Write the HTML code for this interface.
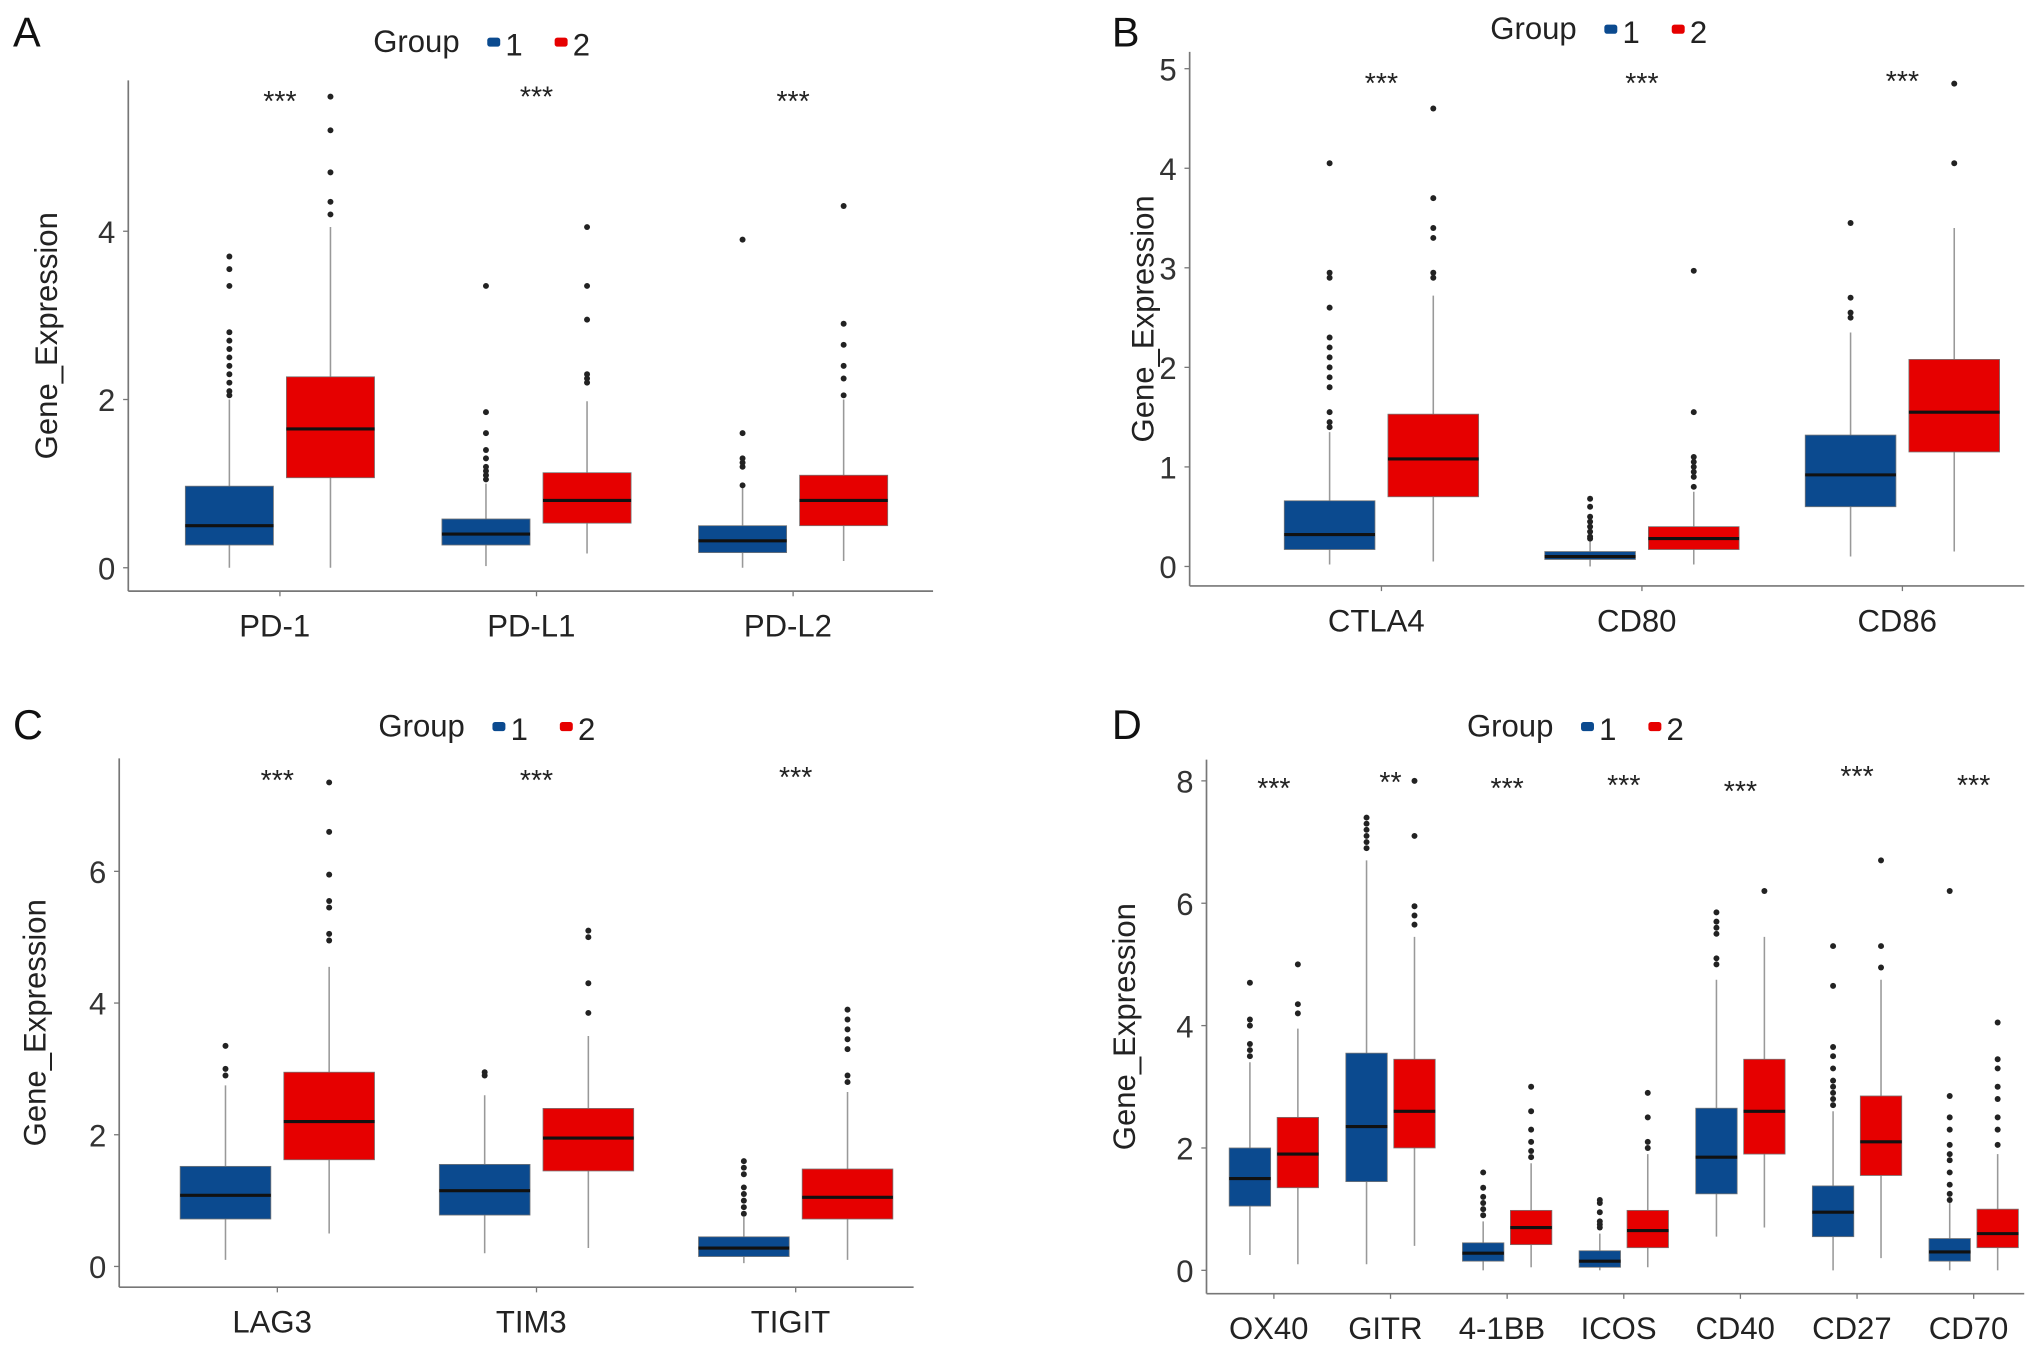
<!DOCTYPE html>
<html><head><meta charset="utf-8"><style>
html,body{margin:0;padding:0;background:#fff;}
svg{display:block;font-family:"Liberation Sans",Arial,sans-serif;}
</style></head><body>
<svg id="fig" width="2032" height="1352" viewBox="0 0 1568 1043" preserveAspectRatio="none" xmlns="http://www.w3.org/2000/svg"></svg>
<script>
// ---- data: [whiskerLow, q1, median, q3, whiskerHigh] ----
const catsA = ["PD-1","PD-L1","PD-L2"];
const boxA1 = [[0,0.27,0.5,0.97,2.0],[0.02,0.27,0.4,0.58,1.0],[0,0.18,0.32,0.5,0.95]];
const boxA2 = [[0,1.07,1.65,2.27,4.05],[0.17,0.53,0.8,1.13,1.98],[0.08,0.5,0.8,1.1,2.0]];
const outA1 = [[2.05,2.1,2.2,2.3,2.4,2.5,2.6,2.7,2.8,3.35,3.55,3.7],[1.05,1.1,1.15,1.2,1.3,1.4,1.6,1.85,3.35],[0.98,1.2,1.25,1.3,1.6,3.9]];
const outA2 = [[4.2,4.35,4.7,5.2,5.6],[2.2,2.25,2.3,2.95,3.35,4.05],[2.05,2.25,2.4,2.65,2.9,4.3]];
const sigA = ["***","***","***"];
const sigYA = [5.6,5.65,5.6];
const ticksA = [0,2,4];

const catsB = ["CTLA4","CD80","CD86"];
const boxB1 = [[0.02,0.17,0.32,0.66,1.35],[0,0.07,0.1,0.15,0.25],[0.1,0.6,0.92,1.32,2.35]];
const boxB2 = [[0.05,0.7,1.08,1.53,2.72],[0.02,0.17,0.28,0.4,0.75],[0.15,1.15,1.55,2.08,3.4]];
const outB1 = [[1.4,1.45,1.55,1.8,1.9,2.0,2.1,2.2,2.3,2.6,2.9,2.95,4.05],[0.28,0.3,0.35,0.4,0.45,0.5,0.6,0.68],[2.5,2.55,2.7,3.45]];
const outB2 = [[2.9,2.95,3.3,3.4,3.7,4.6],[0.8,0.9,0.95,1.0,1.05,1.1,1.55,2.97],[4.05,4.85]];
const sigB = ["***","***","***"];
const sigYB = [4.9,4.9,4.92];
const ticksB = [0,1,2,3,4,5];

const catsC = ["LAG3","TIM3","TIGIT"];
const boxC1 = [[0.1,0.72,1.08,1.52,2.75],[0.2,0.78,1.15,1.55,2.6],[0.05,0.15,0.28,0.45,0.75]];
const boxC2 = [[0.5,1.62,2.2,2.95,4.55],[0.28,1.45,1.95,2.4,3.5],[0.1,0.72,1.05,1.48,2.65]];
const outC1 = [[2.9,3.0,3.35],[2.9,2.95],[0.8,0.9,1.0,1.1,1.2,1.4,1.5,1.6]];
const outC2 = [[4.95,5.05,5.45,5.55,5.95,6.6,7.35],[3.85,4.3,5.0,5.1],[2.8,2.9,3.3,3.45,3.6,3.75,3.9]];
const sigC = ["***","***","***"];
const sigYC = [7.45,7.45,7.5];
const ticksC = [0,2,4,6];

const catsD = ["OX40","GITR","4-1BB","ICOS","CD40","CD27","CD70"];
const boxD1 = [[0.25,1.05,1.5,2.0,3.4],[0.1,1.45,2.35,3.55,6.7],[0,0.15,0.28,0.45,0.8],[0,0.05,0.15,0.32,0.6],[0.55,1.25,1.85,2.65,4.75],[0,0.55,0.95,1.38,2.6],[0,0.15,0.3,0.52,1.1]];
const boxD2 = [[0.1,1.35,1.9,2.5,3.95],[0.4,2.0,2.6,3.45,5.45],[0.05,0.42,0.7,0.98,1.75],[0.05,0.37,0.65,0.98,1.9],[0.7,1.9,2.6,3.45,5.45],[0.2,1.55,2.1,2.85,4.75],[0,0.37,0.6,1.0,1.9]];
const outD1 = [[3.5,3.6,3.7,4.0,4.1,4.7],[6.9,7.0,7.1,7.2,7.3,7.4],[0.9,1.0,1.1,1.2,1.35,1.6],[0.7,0.75,0.8,0.95,1.1,1.15],[5.0,5.1,5.5,5.6,5.7,5.85],[2.7,2.8,2.9,3.0,3.1,3.3,3.5,3.65,4.65,5.3],[1.15,1.25,1.4,1.6,1.8,1.9,2.05,2.3,2.5,2.85,6.2]];
const outD2 = [[4.2,4.35,5.0],[5.65,5.8,5.95,7.1,8.0],[1.85,1.95,2.1,2.3,2.6,3.0],[2.0,2.1,2.5,2.9],[6.2],[4.95,5.3,6.7],[2.05,2.3,2.5,2.8,3.0,3.3,3.45,4.05]];
const sigD = ["***","**","***","***","***","***","***"];
const sigYD = [7.95,8.05,7.95,8.0,7.9,8.15,8.0];
const ticksD = [0,2,4,6,8];

const NS = "http://www.w3.org/2000/svg";
const svg = document.getElementById('fig');
const BLUE = "#0b4a8f", RED = "#e60000";
function mk(tag, attrs, parent){const e=document.createElementNS(NS,tag);for(const k in attrs)e.setAttribute(k,attrs[k]);(parent||svg).appendChild(e);return e;}

function panel(cfg){
  const g = mk('g',{});
  
  
  const y = v => cfg.y0 - v*cfg.unit;
  const xc = i => cfg.c0 + i*cfg.step;
  const L = mk('text',{x:cfg.lx,y:cfg.ly,'font-size':32,fill:'#111'},g);
  L.textContent = cfg.letter;
  
  
  const lg = mk('g',{},g);
  
  
  const lt = mk('text',{x:cfg.gx,y:cfg.gy,'font-size':24,fill:'#222'},lg);
  lt.textContent = 'Group';
  
  
  [[BLUE,'1',0],[RED,'2',52]].forEach(([c,t,dx])=>{
    const e = mk('g',{},lg);
    
    
    mk('rect',{x:cfg.gx+88+dx,y:cfg.gy-11,width:10,height:7,rx:2,fill:c},e);
    const tt = mk('text',{x:cfg.gx+102+dx,y:cfg.gy+3,'font-size':24,fill:'#222'},e);
    tt.textContent = t;
  });
  const ax = mk('line',{x1:cfg.x0,y1:cfg.top,x2:cfg.x0,y2:cfg.base,stroke:'#777','stroke-width':1.3},g);
  
  
  const xa = mk('line',{x1:cfg.x0,y1:cfg.base,x2:cfg.xEnd,y2:cfg.base,stroke:'#777','stroke-width':1.3},g);
  
  
  cfg.ticks.forEach(t=>{
    mk('line',{x1:cfg.x0-4,y1:y(t),x2:cfg.x0,y2:y(t),stroke:'#777','stroke-width':1},g);
    const tl = mk('text',{x:cfg.x0-10,y:y(t)+9,'font-size':24,'text-anchor':'end',fill:'#333'},g);
    tl.textContent = t;
    
    
  });
  const yt = mk('text',{x:0,y:0,'font-size':24,'text-anchor':'middle',fill:'#222',transform:`translate(${cfg.tx},${(cfg.top+cfg.base)/2}) rotate(-90)`},g);
  yt.textContent = 'Gene_Expression';
  
  
  cfg.cats.forEach((c,i)=>{
    const x = xc(i);
    mk('line',{x1:x,y1:cfg.base,x2:x,y2:cfg.base+4,stroke:'#777','stroke-width':1},g);
    const cl = mk('text',{x:x-4,y:cfg.base+35,'font-size':24,'text-anchor':'middle',fill:'#222'},g);
    cl.textContent = c;
    
    
    const st = mk('text',{x:x,y:y(cfg.sigY[i])+11,'font-size':22,'text-anchor':'middle',fill:'#222'},g);
    st.textContent = cfg.sig[i];
    
    
    [[cfg.b1[i],cfg.o1[i],BLUE,-1,'1'],[cfg.b2[i],cfg.o2[i],RED,1,'2']].forEach(([b,o,col,s,gn])=>{
      const bx = x + s*cfg.off;
      const bg = mk('g',{},g);
      
      
      mk('line',{x1:bx,y1:y(b[0]),x2:bx,y2:y(b[4]),stroke:'#999','stroke-width':1.2},bg);
      mk('rect',{x:bx-cfg.w/2,y:y(b[3]),width:cfg.w,height:y(b[1])-y(b[3]),fill:col,stroke:'#777','stroke-width':0.6},bg);
      mk('line',{x1:bx-cfg.w/2,y1:y(b[2]),x2:bx+cfg.w/2,y2:y(b[2]),stroke:'#111','stroke-width':2.4},bg);
      o.forEach(v=>{
        const d = mk('circle',{cx:bx,cy:y(v),r:2.3,fill:'#222'},bg);
        
        
      });
    });
  });
}

panel({letter:'A',lx:10,ly:36,gx:288,gy:40,x0:99,xEnd:720,top:62,base:456,y0:438,unit:64.9,c0:216,step:198,off:39,w:68,tx:44,
  cats:catsA,b1:boxA1,b2:boxA2,o1:outA1,o2:outA2,sig:sigA,sigY:sigYA,ticks:ticksA});
panel({letter:'B',lx:858,ly:36,gx:1150,gy:30,x0:918,xEnd:1562,top:40,base:452,y0:437,unit:76.8,c0:1066,step:201,off:40,w:70,tx:890,
  cats:catsB,b1:boxB1,b2:boxB2,o1:outB1,o2:outB2,sig:sigB,sigY:sigYB,ticks:ticksB});
panel({letter:'C',lx:10,ly:570,gx:292,gy:568,x0:92,xEnd:705,top:585,base:993,y0:977,unit:50.8,c0:214,step:200,off:40,w:70,tx:35,
  cats:catsC,b1:boxC1,b2:boxC2,o1:outC1,o2:outC2,sig:sigC,sigY:sigYC,ticks:ticksC});
panel({letter:'D',lx:858,ly:570,gx:1132,gy:568,x0:931,xEnd:1562,top:586,base:998,y0:980,unit:47.2,c0:983,step:90,off:18.5,w:32,tx:876,
  cats:catsD,b1:boxD1,b2:boxD2,o1:outD1,o2:outD2,sig:sigD,sigY:sigYD,ticks:ticksD});
</script>
</body></html>
